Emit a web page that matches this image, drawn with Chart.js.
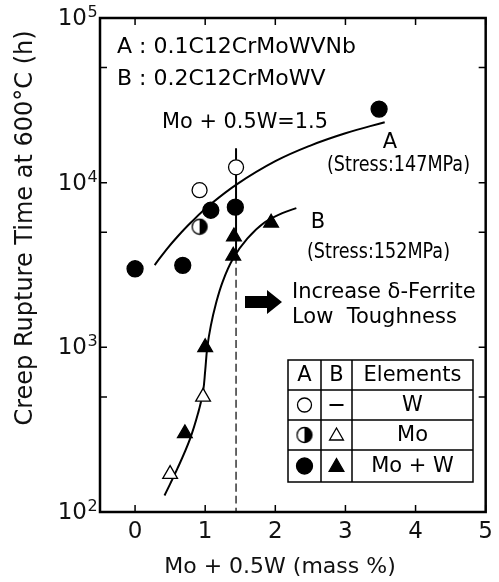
<!DOCTYPE html>
<html>
<head>
<meta charset="utf-8">
<script src="https://cdn.jsdelivr.net/npm/chart.js@4.4.0/dist/chart.umd.min.js"></script>
<style>
  html, body { margin: 0; padding: 0; background: #fff; }
</style>
</head>
<body>
<canvas id="myChart" width="499" height="582"></canvas>
<script>
// Mo + 0.5W (mass %) vs rupture time (h)
// steel A (0.1C12CrMoWVNb)
const aWX = [0.92, 1.44];
const aWY = [9000, 12400];
const aMoX = [0.92];
const aMoY = [5400];
const aMoWX = [0, 0.68, 1.08, 1.43, 3.48];
const aMoWY = [3000, 3150, 6800, 7100, 28000];
// steel B (0.2C12CrMoWV)
const bMoX = [0.5, 0.97];
const bMoY = [170, 500];
const bMoWX = [0.71, 1.0, 1.4, 1.41, 1.94];
const bMoWY = [300, 1000, 3600, 4700, 5700];

// hand drawn trend curves
const curveAX = [0.28, 0.45, 0.61, 0.8, 1.08, 1.45, 2.0, 2.5, 3.0, 3.56];
const curveAY = [3160, 3940, 4730, 5750, 7410, 9770, 13500, 16800, 19950, 23300];
const curveBX = [0.42, 0.6, 0.78, 0.9, 0.97, 1.0, 1.03, 1.08, 1.15, 1.25, 1.4, 1.6, 1.85, 2.1, 2.3];
const curveBY = [126, 182, 275, 400, 540, 720, 1000, 1350, 1820, 2510, 3470, 4570, 5750, 6530, 7000];

// Mo + 0.5W = 1.5 limit line
const limitX = [1.44, 1.44];
const limitSolidY = [16200, 3600];
const limitDashY = [3600, 100];

const xTicks = [0, 1, 2, 3, 4, 5];
const yTicks = [100, 500, 1000, 5000, 10000, 50000, 100000];
const yPowers = [100, 1000, 10000, 100000];
const yExponents = ["2", "3", "4", "5"];

const FONT = "'DejaVu Sans'";
Chart.defaults.color = "#111";
Chart.defaults.font.family = FONT;

function pts(xs, ys) {
  return xs.map((x, i) => ({ x: x, y: ys[i] }));
}

// half filled circle marker (right half black)
function halfCircle(r) {
  const c = document.createElement("canvas");
  const s = Math.ceil(r * 2 + 3);
  c.width = s;
  c.height = s;
  const g = c.getContext("2d");
  const m = s / 2;
  g.fillStyle = "#fff";
  g.beginPath();
  g.arc(m, m, r, 0, Math.PI * 2);
  g.fill();
  g.fillStyle = "#000";
  g.beginPath();
  g.arc(m, m, r, -Math.PI / 2, Math.PI / 2);
  g.closePath();
  g.fill();
  g.strokeStyle = "#000";
  g.lineWidth = 1.3;
  g.beginPath();
  g.arc(m, m, r, 0, Math.PI * 2);
  g.stroke();
  return c;
}
const halfMark = halfCircle(7.5);

function marker(label, xs, ys, style, radius, fill) {
  return {
    label: label,
    data: pts(xs, ys),
    showLine: false,
    pointStyle: style,
    pointRadius: radius,
    pointBackgroundColor: fill,
    pointBorderColor: "#000",
    pointBorderWidth: 1.3,
    order: 0,
  };
}

function curve(label, xs, ys, dash) {
  return {
    label: label,
    data: pts(xs, ys),
    showLine: true,
    borderColor: "#000",
    borderWidth: dash ? 1.2 : 2,
    borderDash: dash || [],
    tension: 0.4,
    pointRadius: 0,
    order: 1,
  };
}

function txt(ctx, s, x, y, size, align, maxW) {
  ctx.font = size + "px " + FONT;
  ctx.textAlign = align || "left";
  ctx.textBaseline = "middle";
  if (maxW) ctx.fillText(s, x, y, maxW);
  else ctx.fillText(s, x, y);
}

// frame, inward ticks, notes and the symbol table
const extras = {
  id: "extras",
  afterDatasetsDraw(chart) {
    const { ctx, chartArea: a, scales } = chart;
    const xs = scales.x;
    const ys = scales.y;
    ctx.save();
    ctx.strokeStyle = "#000";
    ctx.fillStyle = "#000";

    ctx.lineWidth = 2.5;
    ctx.strokeRect(a.left, a.top, a.right - a.left, a.bottom - a.top);

    ctx.lineWidth = 1.5;
    ctx.beginPath();
    xTicks.forEach((v) => {
      const px = xs.getPixelForValue(v);
      ctx.moveTo(px, a.bottom);
      ctx.lineTo(px, a.bottom - 7);
      ctx.moveTo(px, a.top);
      ctx.lineTo(px, a.top + 7);
    });
    yTicks.forEach((v) => {
      const py = ys.getPixelForValue(v);
      ctx.moveTo(a.left, py);
      ctx.lineTo(a.left + 7, py);
      ctx.moveTo(a.right, py);
      ctx.lineTo(a.right - 7, py);
    });
    ctx.stroke();

    // y tick labels as 10 with a raised exponent
    ctx.fillStyle = "#111";
    yPowers.forEach((v, i) => {
      const py = ys.getPixelForValue(v);
      txt(ctx, "10", 87, py + 1, 23, "right");
      txt(ctx, yExponents[i], 87.5, py - 5, 16, "left");
    });

    // axis titles
    txt(ctx, "Mo + 0.5W (mass %)", 280, 567, 22, "center");
    ctx.save();
    ctx.translate(26, 228);
    ctx.rotate(-Math.PI / 2);
    txt(ctx, "Creep Rupture Time at 600\u00B0C (h)", 0, 0, 24, "center");
    ctx.restore();

    // notes
    ctx.fillStyle = "#000";
    txt(ctx, "A : 0.1C12CrMoWVNb", 117, 47, 22, "left", 248);
    txt(ctx, "B : 0.2C12CrMoWV", 117, 79, 22, "left");
    txt(ctx, "Mo + 0.5W=1.5", 162, 123, 21, "left", 166);
    txt(ctx, "A", 390, 143, 21, "center");
    txt(ctx, "(Stress:147MPa)", 327, 166, 21, "left", 143);
    txt(ctx, "B", 318, 223, 21, "center");
    txt(ctx, "(Stress:152MPa)", 307, 253, 21, "left", 143);
    txt(ctx, "Increase \u03B4-Ferrite", 292, 293, 21, "left");
    txt(ctx, "Low  Toughness", 292, 318, 21, "left");

    // block arrow
    ctx.beginPath();
    ctx.moveTo(245, 296);
    ctx.lineTo(267, 296);
    ctx.lineTo(267, 290);
    ctx.lineTo(282, 302);
    ctx.lineTo(267, 314);
    ctx.lineTo(267, 308);
    ctx.lineTo(245, 308);
    ctx.closePath();
    ctx.fill();

    // symbol table
    const tl = 288, tr = 473, tt = 360, tb = 482;
    const cols = [321, 352];
    const rows = [390, 420, 450];
    ctx.lineWidth = 1.5;
    ctx.strokeRect(tl, tt, tr - tl, tb - tt);
    ctx.beginPath();
    cols.forEach((c) => { ctx.moveTo(c, tt); ctx.lineTo(c, tb); });
    rows.forEach((r) => { ctx.moveTo(tl, r); ctx.lineTo(tr, r); });
    ctx.stroke();

    const cA = (tl + cols[0]) / 2;
    const cB = (cols[0] + cols[1]) / 2;
    const cE = (cols[1] + tr) / 2;
    const ry = [(tt + rows[0]) / 2, (rows[0] + rows[1]) / 2, (rows[1] + rows[2]) / 2, (rows[2] + tb) / 2];
    txt(ctx, "A", cA, ry[0] + 1, 21, "center");
    txt(ctx, "B", cB, ry[0] + 1, 21, "center");
    txt(ctx, "Elements", cE, ry[0] + 1, 21, "center");
    txt(ctx, "W", cE, ry[1] + 1, 21, "center");
    txt(ctx, "Mo", cE, ry[2] + 1, 21, "center");
    txt(ctx, "Mo + W", cE, ry[3] + 1, 21, "center");

    const dp = Chart.helpers.drawPoint;
    ctx.lineWidth = 1.3;
    ctx.fillStyle = "#fff";
    dp(ctx, { pointStyle: "circle", radius: 7, rotation: 0, borderWidth: 1.3 }, cA, ry[1]);
    ctx.drawImage(halfMark, cA - halfMark.width / 2, ry[2] - halfMark.height / 2);
    ctx.fillStyle = "#fff";
    dp(ctx, { pointStyle: "triangle", radius: 8, rotation: 0, borderWidth: 1.3 }, cB, ry[2] + 1);
    ctx.fillStyle = "#000";
    dp(ctx, { pointStyle: "circle", radius: 8, rotation: 0, borderWidth: 1 }, cA, ry[3]);
    dp(ctx, { pointStyle: "triangle", radius: 8.5, rotation: 0, borderWidth: 1 }, cB, ry[3] + 1);
    ctx.lineWidth = 2;
    ctx.beginPath();
    ctx.moveTo(cB - 7, ry[1]);
    ctx.lineTo(cB + 7, ry[1]);
    ctx.stroke();

    ctx.restore();
  },
};

const ctx = document.getElementById("myChart").getContext("2d");

new Chart(ctx, {
  type: "scatter",
  data: {
    datasets: [
      marker("A: W", aWX, aWY, "circle", 7.5, "#fff"),
      marker("A: Mo", aMoX, aMoY, halfMark, 7.5, "#fff"),
      marker("A: Mo + W", aMoWX, aMoWY, "circle", 8, "#000"),
      marker("B: Mo", bMoX, bMoY, "triangle", 8.5, "#fff"),
      marker("B: Mo + W", bMoWX, bMoWY, "triangle", 8.5, "#000"),
      curve("A trend", curveAX, curveAY),
      curve("B trend", curveBX, curveBY),
      curve("limit", limitX, limitSolidY),
      curve("limit dashed", limitX, limitDashY, [8, 4]),
    ],
  },
  options: {
    responsive: false,
    animation: false,
    layout: { padding: { top: 18, right: 10, left: 0, bottom: 0 } },
    plugins: {
      legend: { display: false },
      tooltip: { enabled: false },
    },
    scales: {
      x: {
        type: "linear",
        min: -0.5,
        max: 5,
        grid: { display: false, drawTicks: false },
        border: { display: false },
        afterBuildTicks: (s) => { s.ticks = xTicks.map((v) => ({ value: v })); },
        afterFit: (s) => { s.height = 70; },
        ticks: {
          padding: 6,
          autoSkip: false,
          maxRotation: 0,
          font: { size: 23 },
          callback: (v) => String(v),
        },
      },
      y: {
        type: "logarithmic",
        min: 100,
        max: 100000,
        grid: { display: false, drawTicks: false },
        border: { display: false },
        afterBuildTicks: (s) => { s.ticks = yTicks.map((v) => ({ value: v })); },
        afterFit: (s) => { s.width = 100; },
        ticks: { display: false },
      },
    },
  },
  plugins: [extras],
});
</script>
</body>
</html>
